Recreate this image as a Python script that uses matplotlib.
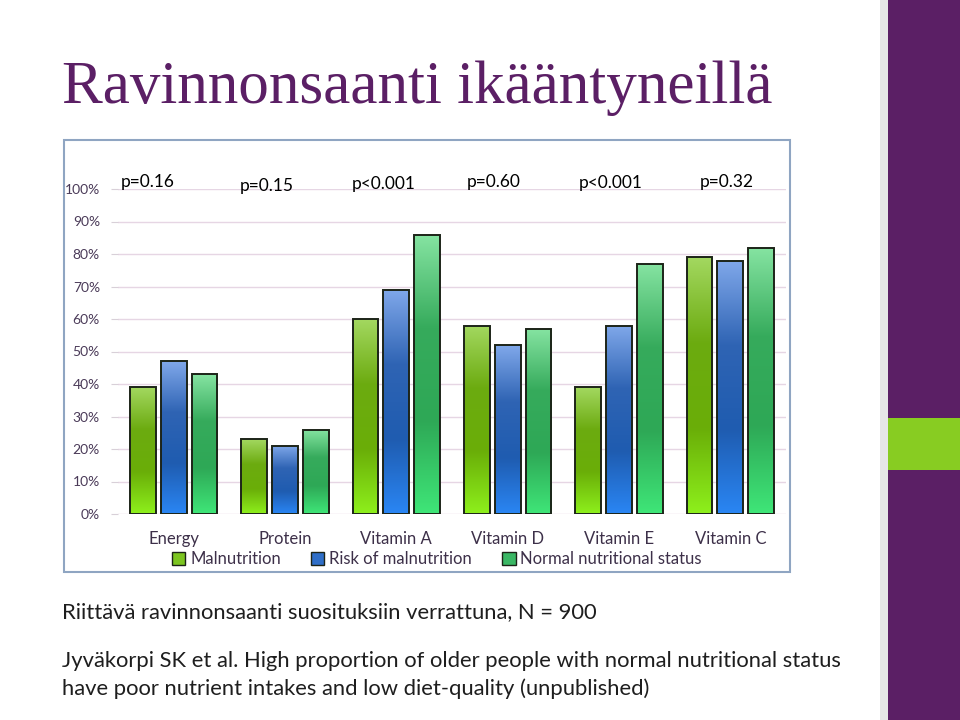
import numpy as np
import matplotlib.pyplot as plt
from matplotlib.patches import Rectangle, Patch
from matplotlib.colors import LinearSegmentedColormap

categories = ["Energy", "Protein", "Vitamin A", "Vitamin D", "Vitamin E", "Vitamin C"]
series_names = ["Malnutrition", "Risk of malnutrition", "Normal nutritional status"]
malnutrition = [39, 23, 60, 58, 39, 79]
risk = [47, 21, 69, 52, 58, 78]
normal = [43, 26, 86, 57, 77, 82]
p_values = ["p=0.16", "p=0.15", "p<0.001", "p=0.60", "p<0.001", "p=0.32"]

title = "Ravinnonsaanti ikääntyneillä"
subtitle = "Riittävä ravinnonsaanti suosituksiin verrattuna, N = 900"
reference = ("Jyväkorpi SK et al. High proportion of older people with normal nutritional status\n"
             "have poor nutrient intakes and low diet-quality (unpublished)")

PURPLE = "#5b1f65"
LABEL_COL = "#3d3049"
BODY_FONT = "Lato"

# hand-placed p-value text boxes (x offset from group centre, y in %)
p_dx = [-0.473, -0.41, -0.398, -0.366, -0.36, -0.272]
p_y = [102, 100.8, 101.5, 102, 101.8, 102]

# gradient stops, top to bottom
gradients = [
    ["#a3d860", "#6cab10", "#6aae08", "#8ef01c"],
    ["#80a8ea", "#2f64b4", "#1f5cb0", "#2a86f4"],
    ["#86e4a2", "#36ab5c", "#2ea856", "#3fe678"],
]
legend_colors = ["#7cc520", "#2f6fc8", "#3ab764"]

fig = plt.figure(figsize=(9.6, 7.2), dpi=100)
fig.patch.set_facecolor("white")

# right decoration strip
fig.add_artist(Rectangle((880 / 960, 0), 8 / 960, 1, transform=fig.transFigure,
                         facecolor="#e6e6e6", edgecolor="none", zorder=-2))
fig.add_artist(Rectangle((888 / 960, 0), 72 / 960, 1, transform=fig.transFigure,
                         facecolor=PURPLE, edgecolor="none", zorder=-2))
fig.add_artist(Rectangle((888 / 960, 1 - 470 / 720), 72 / 960, 52 / 720,
                         transform=fig.transFigure, facecolor="#88cc22",
                         edgecolor="none", zorder=-1))

# chart frame
fig.add_artist(Rectangle((64 / 960, 1 - 572 / 720), 726 / 960, 432 / 720,
                         transform=fig.transFigure, facecolor="white",
                         edgecolor="#8fa5c2", linewidth=1.5, zorder=-1))

fig.text(62 / 960, 1 - 88 / 720, title, fontsize=44, color=PURPLE,
         family="Liberation Serif", va="center", ha="left")

ax = fig.add_axes([118 / 960, 1 - 514 / 720, 668 / 960, 325 / 720])
ax.set_facecolor("none")
x = np.arange(len(categories))
width = 0.232
step = 0.277
ax.set_xlim(-0.5, len(categories) - 0.5)
ax.set_ylim(0, 100)

for i, values in enumerate([malnutrition, risk, normal]):
    cmap = LinearSegmentedColormap.from_list(f"g{i}", gradients[i][::-1])
    grad = np.linspace(0, 1, 256).reshape(-1, 1)
    bars = ax.bar(x + (i - 1) * step, values, width, facecolor="none",
                  edgecolor="#1c2418", linewidth=1.4, zorder=3)
    for bar in bars:
        x0, y0 = bar.get_x(), bar.get_y()
        img = ax.imshow(grad, cmap=cmap, origin="lower", aspect="auto",
                        extent=[x0, x0 + bar.get_width(), y0, y0 + bar.get_height()],
                        zorder=2)
        img.set_clip_path(bar)

for i, p in enumerate(p_values):
    ax.text(x[i] + p_dx[i], p_y[i], p, fontsize=12.5, family=BODY_FONT,
            color="black", va="center", ha="left", clip_on=False)

ax.set_yticks(np.arange(0, 101, 10))
ax.set_yticklabels([f"{v}%" for v in range(0, 101, 10)], family=BODY_FONT,
                   fontsize=10, color="#4a3a58")
ax.yaxis.grid(True, color="#e6d6e4", linewidth=1)
ax.set_axisbelow(True)
ax.tick_params(axis="y", length=5, color="#d8d0d8", pad=8)
ax.set_xticks(x)
ax.set_xticklabels(categories, family=BODY_FONT, fontsize=12, color=LABEL_COL)
ax.tick_params(axis="x", length=0, pad=12)
for s in ax.spines.values():
    s.set_visible(False)

handles = [Patch(facecolor=c, edgecolor="#1c2418", linewidth=1) for c in legend_colors]
fig.legend(handles, series_names, loc="center", bbox_to_anchor=(437 / 960, 1 - 559 / 720),
           ncol=3, frameon=False, prop={"family": BODY_FONT, "size": 12},
           labelcolor=LABEL_COL, handlelength=0.8, handleheight=0.8,
           handletextpad=0.3, columnspacing=1.8, borderpad=0)

fig.text(62 / 960, 1 - 612 / 720, subtitle, fontsize=15.8, family=BODY_FONT,
         color="#1e1e1e", va="center", ha="left")
fig.text(62 / 960, 1 - 675 / 720, reference, fontsize=15.8, family=BODY_FONT,
         color="#1e1e1e", va="center", ha="left", linespacing=1.4)

fig.savefig("out.png", dpi=100, facecolor="white")
